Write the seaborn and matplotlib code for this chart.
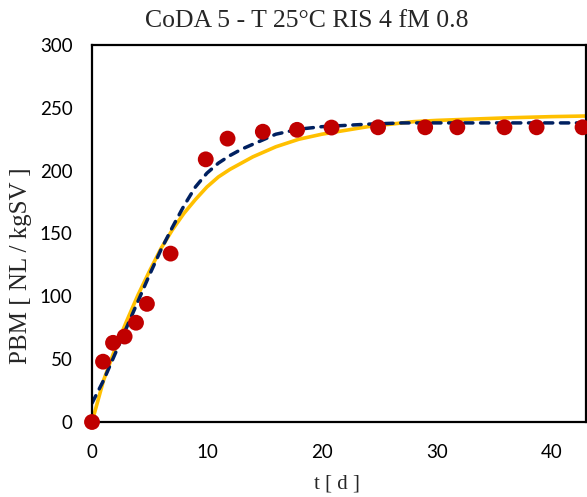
import numpy as np
import pandas as pd
import matplotlib
matplotlib.use("Agg")
import matplotlib.pyplot as plt
import seaborn as sns

# ---- data ----
obs_t = [0, 0.96, 1.83, 2.84, 3.83, 4.78, 6.84, 9.9, 11.8, 14.87, 17.85, 20.85,
         24.9, 29.0, 31.8, 35.9, 38.7, 42.7]
obs_pbm = [0, 48, 63, 68, 79, 94, 134, 209, 225.5, 231, 232.5, 234.3,
           234.5, 234.5, 234.5, 234.5, 234.5, 234.5]

fit1_t = [0, 1, 2, 3, 4, 5, 6, 7, 8, 9, 10, 11, 12, 13, 14, 15, 16, 17, 18, 19,
          20, 22, 24, 26, 28, 30, 33, 36, 40, 43]
fit1_pbm = [0, 33, 58, 80, 101, 120, 138, 153, 166, 177, 187, 195, 201, 206, 211,
            215, 219, 222, 225, 227, 229, 232, 235, 237, 239, 240, 241, 242, 243, 243.5]

fit2_t = [0, 1, 2, 3, 4, 5, 6, 7, 8, 9, 10, 11, 12, 13, 14, 15, 16, 17, 18, 19,
          20, 22, 24, 27, 30, 35, 43]
fit2_pbm = [15, 33, 54, 75, 96, 117, 137, 155, 172, 187, 198, 206, 212, 217, 221,
            225, 229, 231, 233, 234, 235, 236, 237, 238, 238, 238, 238]

title = "CoDA 5 - T 25°C RIS 4 fM 0.8"
xlabel = "t [ d ]"
ylabel = "PBM [ NL / kgSV ]"
xticks = [0, 10, 20, 30, 40]
yticks = [0, 50, 100, 150, 200, 250, 300]

# ---- plotting ----
sns.set_style("white")
plt.rcParams["font.family"] = ["Lato", "DejaVu Sans"]

fig = plt.figure(figsize=(5.87, 4.97), dpi=100)
ax = fig.add_axes([92 / 587, 1 - 422 / 497, 494 / 587, 377 / 497])

df_obs = pd.DataFrame({"t": obs_t, "pbm": obs_pbm})
df_f1 = pd.DataFrame({"t": fit1_t, "pbm": fit1_pbm})
df_f2 = pd.DataFrame({"t": fit2_t, "pbm": fit2_pbm})

sns.lineplot(data=df_f1, x="t", y="pbm", ax=ax, color="#FFC000", linewidth=2.6,
             zorder=2, sort=True)
sns.lineplot(data=df_f2, x="t", y="pbm", ax=ax, color="#002060", linewidth=2.5,
             zorder=3, sort=True)
dl = ax.lines[-1]
dl.set_dashes([2.4, 2.2])
dl.set_dash_capstyle("round")
sns.scatterplot(data=df_obs, x="t", y="pbm", ax=ax, color="#C00000", s=130,
                edgecolor="none", zorder=4, clip_on=False)

ax.set_xlim(0, 43)
ax.set_ylim(0, 300)
ax.set_xticks(xticks)
ax.set_yticks(yticks)
ax.tick_params(axis="both", length=0, labelsize=13.5, colors="black")
ax.tick_params(axis="x", pad=16)
ax.tick_params(axis="y", pad=14)

for s in ax.spines.values():
    s.set_visible(True)
    s.set_color("black")
    s.set_linewidth(1.6)
    s.set_zorder(3.5)

ax.set_xlabel(xlabel, family="Liberation Serif", fontsize=15, va="center")
ax.set_ylabel(ylabel, family="Liberation Serif", fontsize=18, va="center")
ax.xaxis.set_label_coords((337 - 92) / 494, (422 - 484) / 377)
ax.yaxis.set_label_coords((21 - 92) / 494, (422 - 266) / 377)

fig.text(307 / 587, 1 - 21 / 497, title, family="Liberation Serif", fontsize=18.5,
         ha="center", va="center")

fig.savefig("out.png", dpi=100)
